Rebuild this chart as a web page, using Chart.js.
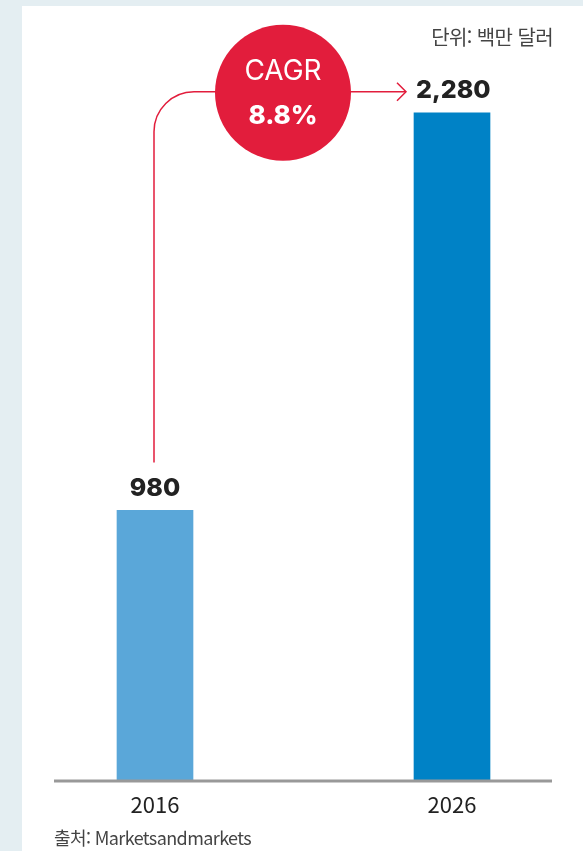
<!DOCTYPE html>
<html lang="ko">
<head>
    <meta charset="UTF-8">
    <title>시장 규모 전망</title>
    <style>
        body, html {
            margin: 0;
            padding: 0;
            width: 583px;
            height: 851px;
            overflow: hidden;
            background: #e4eef2;
        }
        .panel {
            position: absolute;
            left: 22px;
            top: 6px;
            width: 561px;
            height: 845px;
            background: #fff;
        }
        .chart-box {
            position: absolute;
            left: 0;
            top: 0;
            width: 583px;
            height: 851px;
        }
        .unit {
            position: absolute;
            right: 30px;
            top: 22px;
            font: 20px 'Noto Sans CJK KR', sans-serif;
            color: #444;
            letter-spacing: -0.6px;
        }
        .source {
            position: absolute;
            left: 54px;
            top: 824px;
            font: 18px 'Noto Sans CJK KR', sans-serif;
            color: #444;
            letter-spacing: -0.6px;
        }
    </style>
    <script src="https://cdn.jsdelivr.net/npm/chart.js"></script>
</head>
<body>
    <div class="panel"></div>
    <div class="chart-box">
        <canvas id="marketChart" width="583" height="851"></canvas>
    </div>
    <div class="unit">단위: 백만 달러</div>
    <div class="source">출처: Marketsandmarkets</div>
    <script>
        const years = ['2016', '2026'];
        const marketSize = [980, 2280];
        const barColors = ['#5aa7d9', '#0082c6'];
        const cagrText = ['CAGR', '8.8%'];

        const RED = '#e21d3c';
        const Y_MIN = 100;

        // axis line, value labels and the CAGR connector
        const annotate = {
            id: 'annotate',
            afterDatasetsDraw(chart) {
                const ctx = chart.ctx;
                const area = chart.chartArea;
                const bars = chart.getDatasetMeta(0).data;

                ctx.save();
                // baseline
                ctx.strokeStyle = '#999';
                ctx.lineWidth = 3;
                ctx.beginPath();
                ctx.moveTo(54, area.bottom + 1.5);
                ctx.lineTo(552, area.bottom + 1.5);
                ctx.stroke();

                // value labels
                ctx.fillStyle = '#222';
                ctx.font = '800 25px Inter';
                ctx.textBaseline = 'middle';
                bars.forEach((bar, i) => {
                    const txt = marketSize[i].toLocaleString('en-US');
                    if (i === bars.length - 1) {
                        ctx.textAlign = 'left';
                        ctx.fillText(txt, bar.x - 36, bar.y - 22);
                    } else {
                        ctx.textAlign = 'center';
                        ctx.fillText(txt, bar.x, bar.y - 22);
                    }
                });

                // connector from first bar to last
                const a = bars[0], b = bars[bars.length - 1];
                const lineY = b.y - 21;
                const tipX = b.x - 46;
                const r = 40;
                ctx.strokeStyle = RED;
                ctx.lineWidth = 1.5;
                ctx.beginPath();
                ctx.moveTo(a.x - 1, a.y - 48);
                ctx.arcTo(a.x - 1, lineY, a.x - 1 + r, lineY, r);
                ctx.lineTo(tipX, lineY);
                ctx.stroke();
                ctx.beginPath();
                ctx.moveTo(tipX - 9, lineY - 9);
                ctx.lineTo(tipX, lineY);
                ctx.lineTo(tipX - 9, lineY + 9);
                ctx.stroke();

                // CAGR badge
                const cx = 283, cy = lineY + 1;
                ctx.fillStyle = RED;
                ctx.beginPath();
                ctx.arc(cx, cy, 68, 0, Math.PI * 2);
                ctx.fill();
                ctx.fillStyle = '#fff';
                ctx.textAlign = 'center';
                ctx.font = '400 28px Inter';
                ctx.fillText(cagrText[0], cx, cy - 21);
                ctx.font = '800 26px Inter';
                ctx.fillText(cagrText[1], cx, cy + 23);
                ctx.restore();
            }
        };

        new Chart(document.getElementById('marketChart'), {
            type: 'bar',
            data: {
                labels: years,
                datasets: [{
                    data: marketSize,
                    backgroundColor: barColors,
                    barThickness: 76,
                    base: Y_MIN,
                    clip: false
                }]
            },
            options: {
                responsive: false,
                devicePixelRatio: 1,
                animation: false,
                layout: {
                    padding: { left: 155, right: 131, top: 76, bottom: 29 }
                },
                plugins: {
                    legend: { display: false },
                    tooltip: { enabled: false }
                },
                scales: {
                    x: {
                        offset: false,
                        grid: { display: false },
                        border: { display: false },
                        ticks: {
                            padding: 4,
                            color: '#222',
                            font: { family: 'Noto Sans CJK KR', size: 22 }
                        }
                    },
                    y: {
                        display: false,
                        min: Y_MIN,
                        max: 2400
                    }
                }
            },
            plugins: [annotate]
        });
    </script>
</body>
</html>
